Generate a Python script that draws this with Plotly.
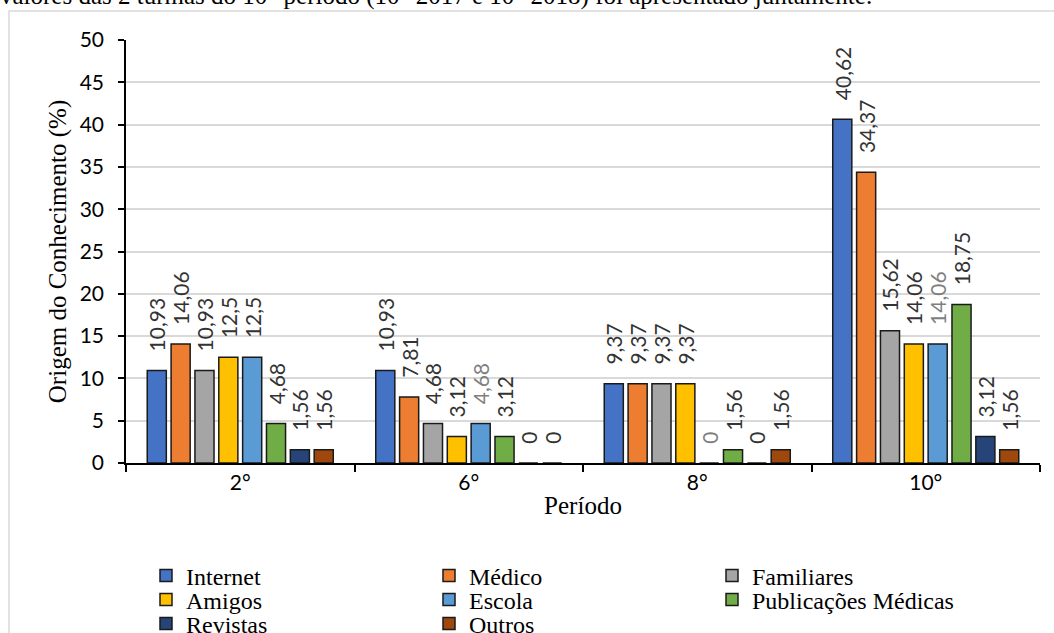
import plotly.graph_objects as go

periods = ["2°", "6°", "8°", "10°"]
series_names = ["Internet", "Médico", "Familiares", "Amigos", "Escola",
                "Publicações Médicas", "Revistas", "Outros"]
internet = [10.93, 10.93, 9.37, 40.62]
medico = [14.06, 7.81, 9.37, 34.37]
familiares = [10.93, 4.68, 9.37, 15.62]
amigos = [12.5, 3.12, 9.37, 14.06]
escola = [12.5, 4.68, 0, 14.06]
publicacoes = [4.68, 3.12, 1.56, 18.75]
revistas = [1.56, 0, 0, 3.12]
outros = [1.56, 0, 1.56, 1.56]
y_ticks = [0, 5, 10, 15, 20, 25, 30, 35, 40, 45, 50]

values = [internet, medico, familiares, amigos, escola, publicacoes, revistas, outros]
colors = ["#4472C4", "#ED7D31", "#A5A5A5", "#FFC000", "#5B9BD5",
          "#70AD47", "#264478", "#9E480E"]
DARK = "#333333"
GREY = "#7F7F7F"
label_colors = {"Escola": [DARK, GREY, GREY, GREY]}
legend_ids = ["legend", "legend", "legend", "legend2", "legend2", "legend2",
              "legend3", "legend3"]

W, H = 1054, 633
ML, MR, MT, MB = 126, 14, 40, 170
PW = W - ML - MR
PH = H - MT - MB


def px_x(p):
    return (p - ML) / PW


def px_y(p):
    return (H - MB - p) / PH


def fmt(v):
    return ("%g" % v).replace(".", ",")


fig = go.Figure()
for name, vals, col, lg in zip(series_names, values, colors, legend_ids):
    fig.add_trace(go.Bar(
        name=name, x=periods, y=vals,
        marker=dict(color=col, line=dict(color="#1a1a1a", width=1.5)),
        text=["\u00a0\u00a0\u00a0" + fmt(v) for v in vals],
        textposition="outside", textangle=-90,
        textfont=dict(family="Lato", size=21,
                      color=label_colors.get(name, [DARK] * len(vals))),
        cliponaxis=False, constraintext="none",
        legend=lg,
    ))

legend_common = dict(orientation="h", xanchor="left", yanchor="middle",
                     entrywidth=238, entrywidthmode="pixels",
                     font=dict(family="Liberation Serif", size=24, color="#000"),
                     bgcolor="rgba(0,0,0,0)", traceorder="normal")

fig.update_layout(
    width=W, height=H,
    margin=dict(l=ML, r=MR, t=MT, b=MB, autoexpand=False),
    plot_bgcolor="white", paper_bgcolor="white",
    barmode="group", bargap=0.165, bargroupgap=0.2,
    showlegend=True,
    legend=dict(x=px_x(146), y=px_y(576), **legend_common),
    legend2=dict(x=px_x(146), y=px_y(600), **legend_common),
    legend3=dict(x=px_x(146), y=px_y(624), **legend_common),
    xaxis=dict(
        title=dict(text="Período", font=dict(family="Liberation Serif", size=25, color="#000"),
                   standoff=4),
        tickfont=dict(family="Lato", size=21, color="#000"),
        showline=True, linecolor="#000", linewidth=1.5,
        ticks="outside", tickson="boundaries", ticklen=7, tickcolor="#000", tickwidth=1.5,
        showgrid=False,
    ),
    yaxis=dict(
        title=dict(text="Origem do Conhecimento (%)",
                   font=dict(family="Liberation Serif", size=25, color="#000"), standoff=6),
        range=[0, 50], tickvals=y_ticks,
        tickfont=dict(family="Lato", size=21, color="#000"),
        showline=True, linecolor="#000", linewidth=1.5,
        ticks="outside", ticklen=6, tickcolor="#000", tickwidth=1.5,
        ticklabelstandoff=10,
        showgrid=True, gridcolor="#D9D9D9", gridwidth=1.5, zeroline=False,
    ),
    shapes=[dict(type="rect", xref="paper", yref="paper",
                 x0=px_x(9), x1=px_x(1080), y0=px_y(700), y1=px_y(11),
                 line=dict(color="#D9D9D9", width=1.5), fillcolor="rgba(0,0,0,0)",
                 layer="below")],
    annotations=[dict(
        text="valores das 2 turmas do 10° período (10° 2017 e 10° 2018) foi apresentado juntamente.",
        xref="paper", yref="paper", x=px_x(-2), y=px_y(-4),
        xanchor="left", yanchor="middle", showarrow=False,
        font=dict(family="Liberation Serif", size=25, color="#000"),
    )],
)

fig.write_html("out.html", config={"displayModeBar": False},
               post_script="document.body.style.margin='0';document.body.style.overflow='hidden';")
